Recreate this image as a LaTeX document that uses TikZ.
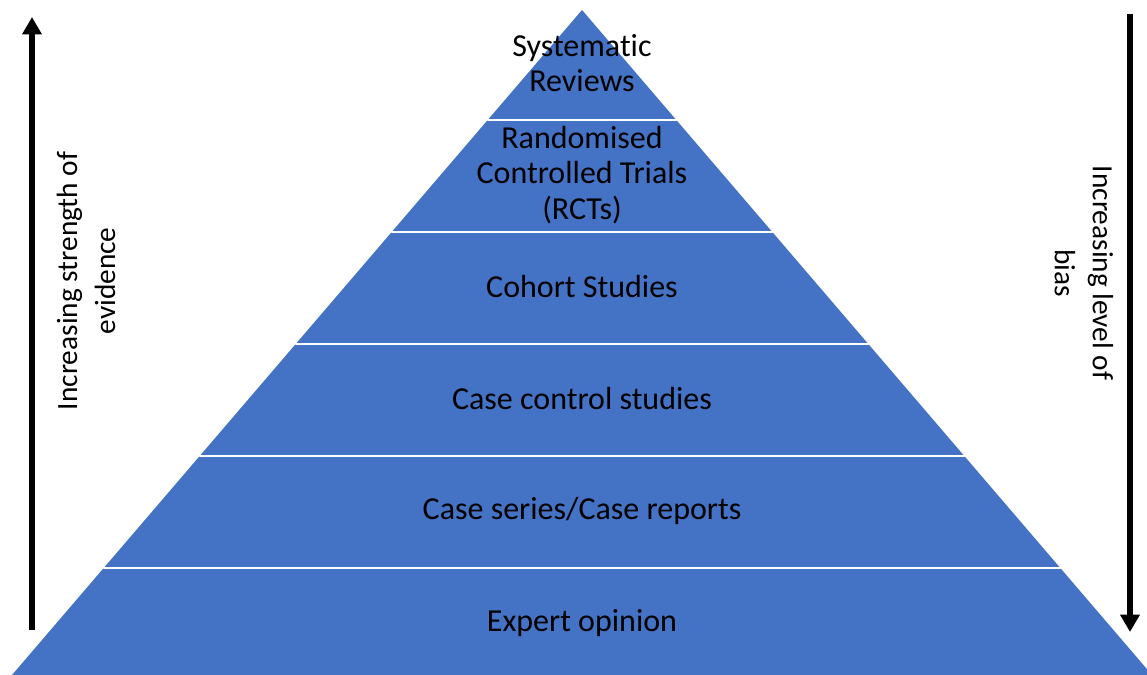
\documentclass[tikz,border=0pt]{standalone}
\usepackage{fontspec}
\setmainfont{Carlito}[Ligatures=NoCommon]
\usetikzlibrary{arrows.meta}
\definecolor{layerblue}{HTML}{4472C4}
\begin{document}
\begin{tikzpicture}[x=0.75pt,y=-0.75pt,
  layerlabel/.style={align=center,font=\fontsize{24pt}{26.5pt}\selectfont,text=black,inner sep=0pt},
  sidelabel/.style={align=center,font=\fontsize{22pt}{28.5pt}\selectfont,text=black,inner sep=0pt},
  bigarrow/.style={line width=4.5pt,-{Triangle[length=13pt,width=14pt]}}]
\useasboundingbox (0,0) rectangle (1147,675);

% pyramid corners
\coordinate (apex) at (582,10);
\coordinate (bl) at (12,675);
\coordinate (br) at (1152,675);

\begin{scope}
  \clip (0,0) rectangle (1147,675);
  \fill[layerblue] (apex) -- (bl) -- (br) -- cycle;
  % white separators between the layers
  \clip (apex) -- (bl) -- (br) -- cycle;
  \foreach \yy in {120,232,344,456,568}
    \draw[white,line width=2pt] (0,\yy) -- (1147,\yy);
\end{scope}

% layer labels
\node[layerlabel] (sr)  at (582,63)  {Systematic\\Reviews};
\node[layerlabel] (rct) at (582,175) {Randomised\\Controlled Trials\\(RCTs)};
\node[layerlabel] (coh) at (582,287) {Cohort Studies};
\node[layerlabel] (ccs) at (582,399) {Case control studies};
\node[layerlabel] (csr) at (582,511) {Case series/Case reports};
\node[layerlabel] (exp) at (582,623) {Expert opinion};

% side arrows
\coordinate (lbot) at (32,630);
\coordinate (ltop) at (32,17);
\coordinate (rtop) at (1130,14);
\coordinate (rbot) at (1130,632);
\draw[bigarrow] (lbot) -- (ltop);
\draw[bigarrow] (rtop) -- (rbot);

% side labels
\node[sidelabel,rotate=90]  (strength) at (86,281)   {Increasing strength of\\evidence};
\node[sidelabel,rotate=-90] (bias)     at (1084,273) {Increasing level of\\bias};
\end{tikzpicture}
\end{document}
